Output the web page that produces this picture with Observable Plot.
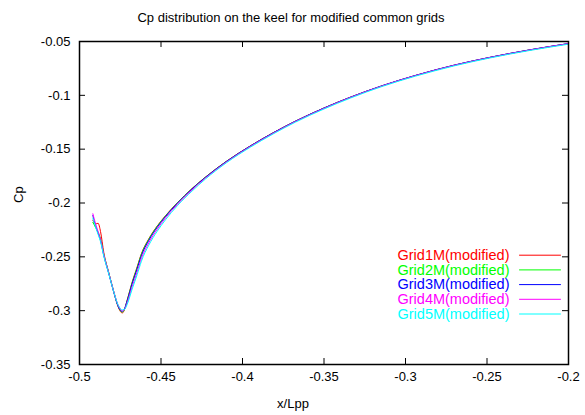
<!DOCTYPE html>
<html><head><meta charset="utf-8">
<script src="https://cdn.jsdelivr.net/npm/d3@7"></script>
<script src="https://cdn.jsdelivr.net/npm/@observablehq/plot@0.6"></script>
<style>html,body{margin:0;padding:0;background:#fff}svg{display:block}</style>
</head><body><div id="chart"></div>
<script>
const seriesNames = ["Grid1M(modified)","Grid2M(modified)","Grid3M(modified)","Grid4M(modified)","Grid5M(modified)"];
const seriesColors = ["#ff0000","#00ff00","#0000ff","#ff00ff","#00ffff"];
const xValues = [-0.4918,-0.4902,-0.4886,-0.4871,-0.4851,-0.4820,-0.4790,-0.4765,-0.4748,-0.4738,-0.4725,-0.4707,-0.4677,-0.4646,-0.4620,-0.4575,-0.4523,-0.4472,-0.4400,-0.4310,-0.4227,-0.4100,-0.3951,-0.3810,-0.3675,-0.3500,-0.3337,-0.3140,-0.2939,-0.2700,-0.2479,-0.2240,-0.2000];
const grid1Y = [-0.2160,-0.2195,-0.2188,-0.2265,-0.2460,-0.2650,-0.2825,-0.2955,-0.3010,-0.3022,-0.2995,-0.2900,-0.2735,-0.2592,-0.2470,-0.2333,-0.2213,-0.2117,-0.1998,-0.1866,-0.1759,-0.1614,-0.1469,-0.1346,-0.1240,-0.1118,-0.1017,-0.0910,-0.0816,-0.0720,-0.0647,-0.0579,-0.0520];
const grid2Y = [-0.2180,-0.2225,-0.2270,-0.2330,-0.2475,-0.2650,-0.2822,-0.2950,-0.3003,-0.3015,-0.2992,-0.2902,-0.2740,-0.2598,-0.2475,-0.2337,-0.2216,-0.2120,-0.2000,-0.1867,-0.1760,-0.1615,-0.1470,-0.1347,-0.1240,-0.1118,-0.1017,-0.0910,-0.0816,-0.0720,-0.0647,-0.0579,-0.0520];
const grid3Y = [-0.2116,-0.2209,-0.2280,-0.2348,-0.2488,-0.2658,-0.2828,-0.2952,-0.2998,-0.3008,-0.2985,-0.2906,-0.2750,-0.2611,-0.2488,-0.2348,-0.2225,-0.2125,-0.2003,-0.1870,-0.1762,-0.1616,-0.1470,-0.1347,-0.1240,-0.1118,-0.1017,-0.0909,-0.0815,-0.0719,-0.0646,-0.0578,-0.0519];
const grid4Y = [-0.2100,-0.2190,-0.2265,-0.2340,-0.2480,-0.2652,-0.2820,-0.2940,-0.2990,-0.3003,-0.2990,-0.2925,-0.2778,-0.2640,-0.2515,-0.2370,-0.2243,-0.2138,-0.2013,-0.1878,-0.1768,-0.1621,-0.1474,-0.1351,-0.1243,-0.1121,-0.1019,-0.0911,-0.0817,-0.0721,-0.0648,-0.0580,-0.0520];
const grid5Y = [-0.2140,-0.2220,-0.2292,-0.2360,-0.2495,-0.2660,-0.2825,-0.2940,-0.2982,-0.2993,-0.2990,-0.2940,-0.2800,-0.2665,-0.2540,-0.2392,-0.2262,-0.2155,-0.2026,-0.1890,-0.1777,-0.1628,-0.1481,-0.1357,-0.1249,-0.1127,-0.1025,-0.0916,-0.0822,-0.0726,-0.0652,-0.0584,-0.0525];
const xTicks = [-0.5,-0.45,-0.4,-0.35,-0.3,-0.25,-0.2];
const xTickLabels = ["-0.5","-0.45","-0.4","-0.35","-0.3","-0.25","-0.2"];
const yTicks = [-0.35,-0.3,-0.25,-0.2,-0.15,-0.1,-0.05];
const yTickLabels = ["-0.35","-0.3","-0.25","-0.2","-0.15","-0.1","-0.05"];
const titleText = "Cp distribution on the keel for modified common grids";
const xLabel = "x/Lpp";
const yLabel = "Cp";

const seriesY = [grid1Y, grid2Y, grid3Y, grid4Y, grid5Y];
const rows = [];
seriesY.forEach((ys, si) => ys.forEach((y, i) => rows.push({series: seriesNames[si], x: xValues[i], y})));
const xFmt = new Map(xTicks.map((t, i) => [t, xTickLabels[i]]));
const yFmt = new Map(yTicks.map((t, i) => [t, yTickLabels[i]]));

const W = 585, H = 415, ML = 79, MR = 17, MT = 41, MB = 51;
const FW = W - ML - MR, FH = H - MT - MB;
const lineShape = {draw(context, l) { context.moveTo(0, 0); context.lineTo(0, -l); }};

const legendMarks = [];
seriesNames.forEach((name, i) => {
  legendMarks.push(Plot.text([name], {frameAnchor: "top-right", text: d => d, textAnchor: "end", lineAnchor: "middle", dx: -59, dy: 213.7 + i * 14.7, fill: seriesColors[i], fontSize: 14.5}));
  legendMarks.push(Plot.vector([name], {frameAnchor: "top-right", dx: -49, dy: 213.7 + i * 14.7, length: 41, rotate: 90, anchor: "start", shape: lineShape, stroke: seriesColors[i], strokeWidth: 1}));
});

const chart = Plot.plot({
  width: W, height: H, marginLeft: ML, marginRight: MR, marginTop: MT, marginBottom: MB,
  style: {fontFamily: "'Liberation Sans', Arial, Helvetica, sans-serif", fontSize: "13px", background: "#fff", color: "#000"},
  x: {domain: [-0.5, -0.2]},
  y: {domain: [-0.35, -0.05]},
  color: {domain: seriesNames, range: seriesColors},
  marks: [
    Plot.line(rows, {x: "x", y: "y", z: "series", stroke: "series", strokeWidth: 1, curve: "monotone-x"}),
    Plot.tickX(xTicks, {x: d => d, insetTop: FH - 6, stroke: "#000"}),
    Plot.tickX(xTicks, {x: d => d, insetBottom: FH - 6, stroke: "#000"}),
    Plot.tickY(yTicks, {y: d => d, insetRight: FW - 6, stroke: "#000"}),
    Plot.tickY(yTicks, {y: d => d, insetLeft: FW - 6, stroke: "#000"}),
    Plot.axisX(xTicks, {anchor: "bottom", tickSize: 0, tickPadding: 7, tickFormat: d => xFmt.get(d), label: null, fill: "#000"}),
    Plot.axisY(yTicks, {anchor: "left", tickSize: 0, tickPadding: 9, tickFormat: d => yFmt.get(d), label: null, fill: "#000"}),
    Plot.frame({stroke: "#000", strokeWidth: 1.5}),
    ...legendMarks,
    Plot.text([titleText], {frameAnchor: "top", text: d => d, dx: -33, dy: -24, lineAnchor: "middle", fill: "#000"}),
    Plot.text([xLabel], {frameAnchor: "bottom", text: d => d, dx: -31, dy: 39, lineAnchor: "middle", fill: "#000"}),
    Plot.text([yLabel], {frameAnchor: "left", text: d => d, dx: -61, rotate: -90, lineAnchor: "middle", fill: "#000"})
  ]
});
document.getElementById("chart").appendChild(chart);
</script>
</body></html>
